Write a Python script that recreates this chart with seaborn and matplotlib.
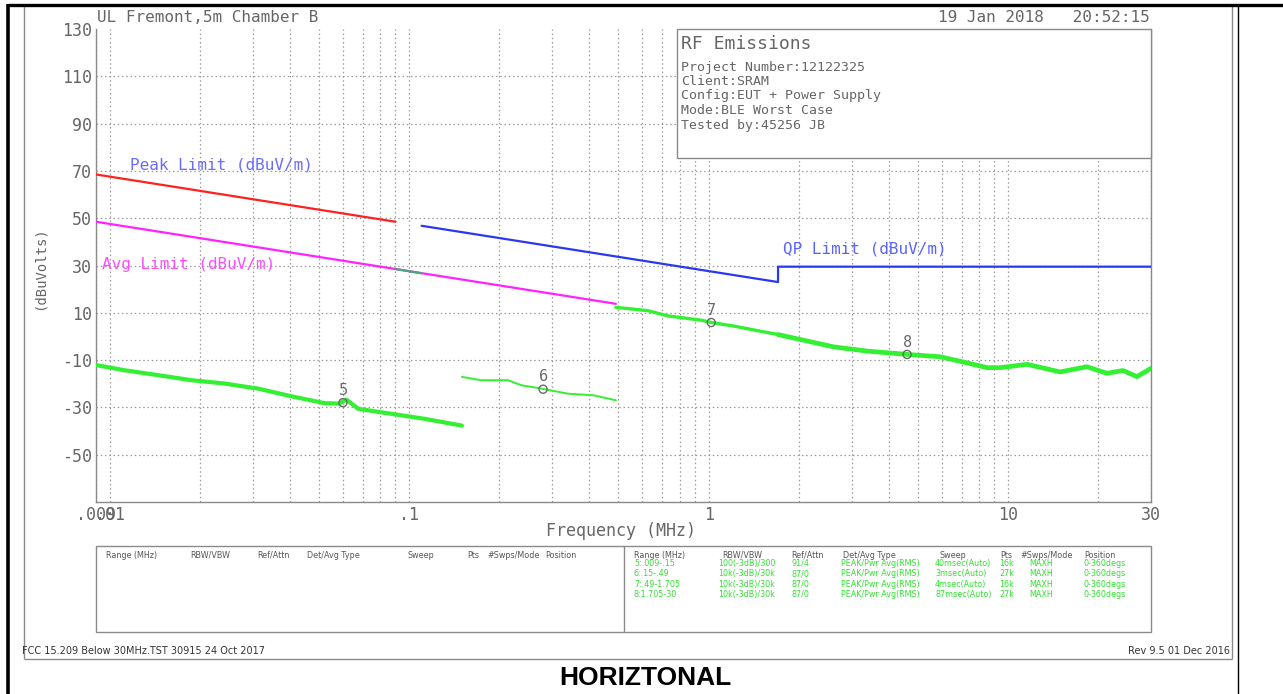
import numpy as np
import pandas as pd
import matplotlib
matplotlib.use("Agg")
import matplotlib.pyplot as plt
import seaborn as sns
from matplotlib.lines import Line2D
from matplotlib.patches import Rectangle
from matplotlib.ticker import NullFormatter, FixedLocator

# ---------------- data ----------------
peak_freq = [0.009, 0.09]
peak_db = [68.5, 48.5]
avg_freq = [0.009, 0.49]
avg_db = [48.5, 13.8]
overlap_freq = [0.09, 0.11]
overlap_db = [28.5, 26.7]
qp_freq = [0.11, 1.705, 1.705, 30.0]
qp_db = [46.8, 23.0, 29.5, 29.5]

seg5_freq = [0.009, 0.01122, 0.01456, 0.01876, 0.02417, 0.0314, 0.04044,
             0.05208, 0.05845, 0.06166, 0.06761, 0.0871, 0.1122, 0.15]
seg5_db = [-12.1, -14.3, -16.4, -18.5, -19.9, -22.1, -25.3,
           -28.2, -28.4, -26.7, -30.6, -32.7, -34.8, -37.7]
seg6_freq = [0.15, 0.1738, 0.2138, 0.2362, 0.2754, 0.3388, 0.4138, 0.49]
seg6_db = [-17.1, -18.5, -18.5, -20.6, -22.0, -24.2, -24.9, -27.0]
seg7_freq = [0.49, 0.6262, 0.73, 0.9405, 1.031, 1.211, 1.705]
seg7_db = [12.3, 10.9, 8.7, 6.9, 5.8, 4.4, 0.8]
seg8_freq = [1.705, 2.026, 2.61, 3.388, 4.607, 5.934, 7.079, 8.511, 9.404,
             11.57, 14.91, 18.34, 21.38, 24.17, 26.92, 30.0]
seg8_db = [0.8, -1.3, -4.4, -6.2, -7.6, -8.6, -10.8, -13.2, -13.2,
           -11.8, -15.0, -12.8, -15.6, -14.4, -17.0, -13.5]

marker_freq = [0.0601, 0.28, 1.02, 4.6]
marker_db = [-28.0, -22.3, 5.9, -7.6]
marker_labels = ["5", "6", "7", "8"]

y_ticks = [130, 110, 90, 70, 50, 30, 10, -10, -30, -50]
x_ticks = [0.009, 0.01, 0.1, 1, 10, 30]
x_tick_labels = [".009", ".01", ".1", "1", "10", "30"]

table_headers = ["Range (MHz)", "RBW/VBW", "Ref/Attn", "Det/Avg Type",
                 "Sweep", "Pts", "#Swps/Mode", "Position"]
table_rows = [
    ["5:.009-.15", "100(-3dB)/300", "91/4", "PEAK/Pwr Avg(RMS)", "40msec(Auto)", "16k", "MAXH", "0-360degs"],
    ["6:.15-.49", "10k(-3dB)/30k", "87/0", "PEAK/Pwr Avg(RMS)", "3msec(Auto)", "27k", "MAXH", "0-360degs"],
    ["7:.49-1.705", "10k(-3dB)/30k", "87/0", "PEAK/Pwr Avg(RMS)", "4msec(Auto)", "16k", "MAXH", "0-360degs"],
    ["8:1.705-30", "10k(-3dB)/30k", "87/0", "PEAK/Pwr Avg(RMS)", "87msec(Auto)", "27k", "MAXH", "0-360degs"],
]
info_lines = ["Project Number:12122325", "Client:SRAM", "Config:EUT + Power Supply",
              "Mode:BLE Worst Case", "Tested by:45256 JB"]

# ---------------- figure ----------------
sns.set_style("white")
plt.rcParams["font.family"] = ["DejaVu Sans Mono", "DejaVu Sans"]

W, H = 1283, 694
fig = plt.figure(figsize=(W / 100, H / 100), dpi=100)
fig.patch.set_facecolor("white")

def fx(px):
    return px / W

def fy(py):
    return 1 - py / H

ax = fig.add_axes([fx(96), fy(502), (1151 - 96) / W, (502 - 29) / H])
ax.set_facecolor("white")

TXT = "#666666"
GREEN = "#33f033"

def line(xs, ys, color, lw, z=3):
    df = pd.DataFrame({"f": xs, "v": ys})
    sns.lineplot(data=df, x="f", y="v", ax=ax, color=color, linewidth=lw,
                 estimator=None, sort=False, zorder=z)

line(seg5_freq, seg5_db, GREEN, 3.0)
line(seg6_freq, seg6_db, GREEN, 1.4)
line(seg7_freq, seg7_db, GREEN, 2.4)
line(seg8_freq, seg8_db, GREEN, 3.4)
line(peak_freq, peak_db, "#ff2020", 1.6, 4)
line(avg_freq, avg_db, "#ff22ff", 1.6, 4)
line(overlap_freq, overlap_db, "#4aa585", 1.6, 5)
line(qp_freq, qp_db, "#2a38ee", 1.6, 4)

mdf = pd.DataFrame({"f": marker_freq, "v": marker_db})
sns.scatterplot(data=mdf, x="f", y="v", ax=ax, marker="o", s=34,
                facecolor="none", edgecolor="#6a6a6a", linewidth=1.0, zorder=6)
for f, v, lab in zip(marker_freq, marker_db, marker_labels):
    ax.annotate(lab, (f, v), xytext=(0, 3.5), textcoords="offset points",
                ha="center", va="bottom", fontsize=11, color="#6a6a6a", zorder=6)

ax.set_xscale("log")
ax.set_xlim(0.009, 30)
ax.set_ylim(-70, 130)
ax.set_xlabel("")
ax.set_ylabel("")

ax.xaxis.set_major_locator(FixedLocator(x_ticks))
ax.set_xticklabels(x_tick_labels)
minor = [m * d for d in (0.01, 0.1, 1) for m in range(2, 10)] + [20]
ax.xaxis.set_minor_locator(FixedLocator(minor))
ax.xaxis.set_minor_formatter(NullFormatter())
ax.set_yticks(y_ticks)
ax.set_yticklabels([str(t) for t in y_ticks])

ax.tick_params(which="both", length=0, colors=TXT, labelsize=12)
ax.tick_params(axis="x", pad=3)
ax.tick_params(axis="y", pad=3)
grid_kw = dict(color="#9a9a9a", linestyle=(0, (1.2, 2.2)), linewidth=0.9)
ax.grid(True, which="major", axis="both", **grid_kw)
ax.grid(True, which="minor", axis="x", **grid_kw)
for gl, t in zip(ax.get_ygridlines(), y_ticks):
    if t == 130:
        gl.set_visible(False)

for s in ["left", "bottom", "right"]:
    ax.spines[s].set_color("#8a8a8a")
    ax.spines[s].set_linewidth(1.0)
ax.spines["top"].set_visible(False)

# limit labels
fig.text(fx(130), fy(165), "Peak Limit (dBuV/m)", color="#6b6bff", fontsize=11.5, va="center")
fig.text(fx(102), fy(265), "Avg Limit (dBuV/m)", color="#ff4cff", fontsize=11.5, va="center")
fig.text(fx(783), fy(249), "QP Limit (dBuV/m)", color="#5a64ff", fontsize=11.5, va="center")

# axis titles and header
fig.text(fx(621), fy(531), "Frequency (MHz)", color=TXT, fontsize=12, ha="center", va="center")
fig.text(fx(40), fy(268), "(dBuVolts)", color=TXT, fontsize=10, rotation=90, ha="center", va="center")
fig.text(fx(97), fy(18), "UL Fremont,5m Chamber B", color=TXT, fontsize=11.5, va="center")
fig.text(fx(1150), fy(18), "19 Jan 2018   20:52:15", color=TXT, fontsize=11.5, va="center", ha="right")

# info box
fig.patches.append(Rectangle((fx(677), fy(158)), (1151 - 677) / W, (158 - 29) / H,
                             transform=fig.transFigure, facecolor="white",
                             edgecolor="#8a8a8a", linewidth=1.0, zorder=5))
fig.text(fx(681), fy(44), "RF Emissions", color=TXT, fontsize=13, va="center", zorder=6)
for i, s in enumerate(info_lines):
    fig.text(fx(681), fy(67 + i * 14.5), s, color=TXT, fontsize=9.5, va="center", zorder=6)

# bottom table
fig.patches.append(Rectangle((fx(96), fy(632)), (1151 - 96) / W, (632 - 546) / H,
                             transform=fig.transFigure, facecolor="none",
                             edgecolor="#8a8a8a", linewidth=1.0, zorder=5))
fig.add_artist(Line2D([fx(624), fx(624)], [fy(546), fy(632)], transform=fig.transFigure,
                      color="#8a8a8a", linewidth=1.0))
left_cols = [106, 190, 257, 307, 408, 467, 487, 545]
right_cols = [634, 722, 791, 843, 940, 1000, 1020, 1084]
value_cols = [634, 718, 791, 841, 935, 999, 1029, 1084]
for x, h in zip(left_cols, table_headers):
    fig.text(fx(x), fy(555), h, color="#555555", fontsize=5.8, family="DejaVu Sans", va="center")
for x, h in zip(right_cols, table_headers):
    fig.text(fx(x), fy(555), h, color="#555555", fontsize=5.8, family="DejaVu Sans", va="center")
for r, row in enumerate(table_rows):
    for x, val in zip(value_cols, row):
        fig.text(fx(x), fy(563.5 + r * 10.3), val, color="#33e033", fontsize=5.8,
                 family="DejaVu Sans", va="center")

# footer
fig.text(fx(22), fy(651), "FCC 15.209 Below 30MHz.TST 30915 24 Oct 2017", color="#333333",
         fontsize=7, family="DejaVu Sans", va="center")
fig.text(fx(1230), fy(651), "Rev 9.5 01 Dec 2016", color="#333333",
         fontsize=7, family="DejaVu Sans", va="center", ha="right")
fig.text(fx(645), fy(678), "HORIZTONAL", color="black", fontsize=19, fontweight="bold",
         family="Liberation Sans", ha="center", va="center")

# page frames
def fline(x0, y0, x1, y1, color, lw):
    fig.add_artist(Line2D([fx(x0), fx(x1)], [fy(y0), fy(y1)], transform=fig.transFigure,
                          color=color, linewidth=lw, solid_capstyle="butt"))

fline(24, 5, 24, 659, "#8a8a8a", 1.0)
fline(1232, 5, 1232, 659, "#8a8a8a", 1.0)
fline(24, 659, 1232, 659, "#8a8a8a", 1.0)
fline(8, 5, 1283, 5, "black", 2.4)
fline(8, 4, 8, 694, "black", 2.6)
fline(1238, 5, 1238, 694, "black", 1.0)

fig.savefig("out.png", dpi=100, facecolor="white")
